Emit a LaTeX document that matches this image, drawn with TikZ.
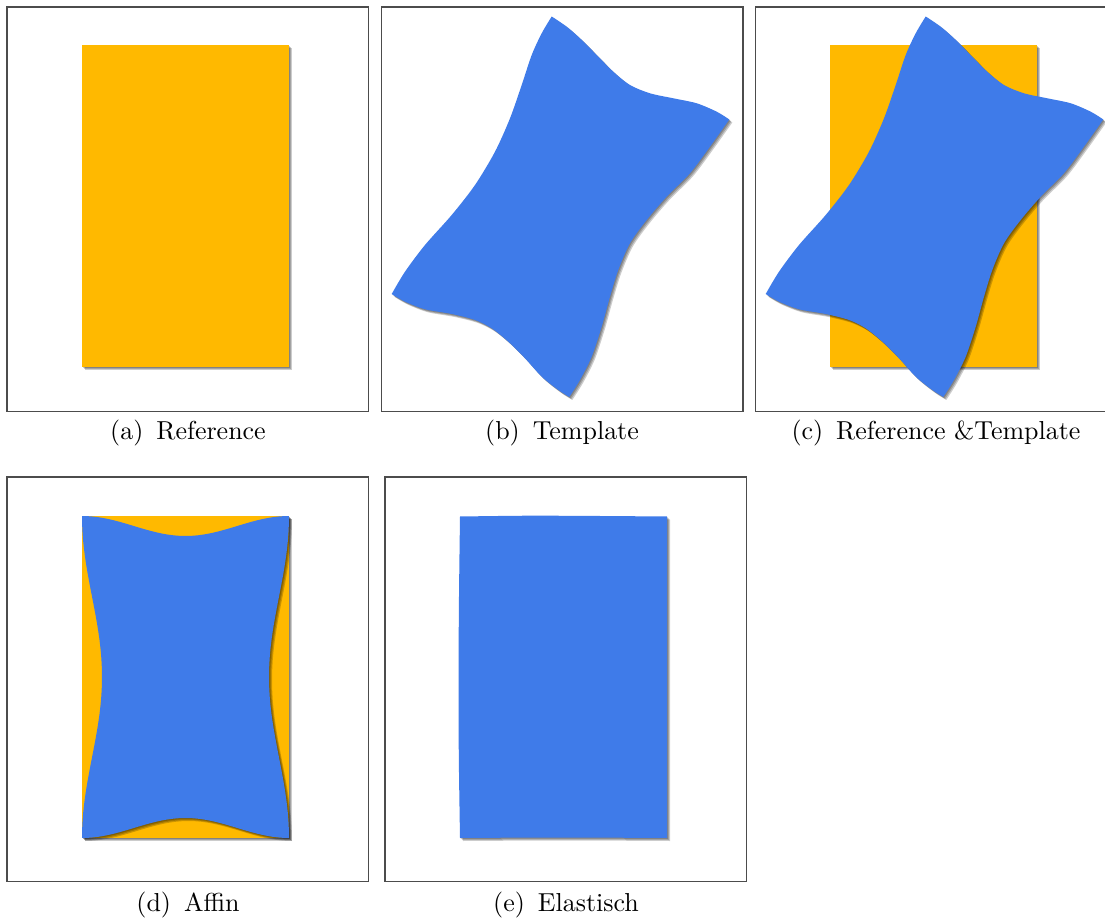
\documentclass[tikz,border=0pt]{standalone}
\usepackage{amsmath, amssymb}
\usepackage{tikz}

\definecolor{refgelb}{RGB}{255,185,0}
\definecolor{tplblau}{RGB}{63,123,233}

\tikzset{
  rahmen/.style={draw=black!70, line width=0.5pt},
  refflaeche/.style={fill=refgelb},
  tplflaeche/.style={fill=tplblau},
  schatten/.style={fill=black, opacity=0.2},
  bildtext/.style={inner sep=0pt},
}

% Umriss des Templates (Koordinaten im Teilbild (b))
\newcommand{\tplpfad}{%
  plot[smooth] coordinates {(551.7,16.5) (566.7,26.7) (580,38.3) (596.7,55) (613.3,71.7) (630,85) (650,93.3) (673.3,98.3) (696.7,103.3) (716.7,111.7) (729.3,119.5)}
  -- plot[smooth] coordinates {(729.3,119.5) (710,146.7) (690,173.3) (666.7,196.7) (646.7,220) (630,243.3) (618.3,270) (610,296.7) (601.7,326.7) (591.7,356.7) (580,380) (569.3,397)}
  -- plot[smooth] coordinates {(569.3,397) (558.3,390) (541.7,376.7) (525,358.3) (508.3,341.7) (491.7,328.3) (475,320) (451.7,314) (425,309.3) (405,301.7) (391.7,294)}
  -- plot[smooth] coordinates {(391.7,294) (405,271.7) (425,245) (451.7,215) (475,185) (495,151.7) (510,118.3) (521.7,85) (531.7,55) (541.7,33.3) (551.7,16.5)}
  -- cycle}

% Referenzrechteck (Koordinaten im Teilbild (a))
\newcommand{\refpfad}{(82,45) rectangle (289,367)}

\begin{document}
\begin{tikzpicture}[x=0.385pt, y=-0.385pt]

    \useasboundingbox (0,0) rectangle (1105,920);

    % ================= (a) Reference =================
    \draw[rahmen] (7,7) rectangle (368.5,411.5);
    \foreach \d in {1,2,3} \fill[schatten, shift={(\d,\d)}] \refpfad;
    \fill[refflaeche] \refpfad;
    \node[bildtext] (capA) at (188,433) {(a)\enspace Reference};

    % ================= (b) Template =================
    \draw[rahmen] (381.5,7) rectangle (743,411.5);
    \foreach \d in {1,2,3} \fill[schatten, shift={(\d,\d)}] \tplpfad;
    \fill[tplflaeche] \tplpfad;
    \node[bildtext] (capB) at (562,433) {(b)\enspace Template};

    % ================= (c) Reference & Template =================
    % rechter Rand liegt ausserhalb des Bildes
    \draw[rahmen] (1105,7) -- (755.5,7) -- (755.5,411.5) -- (1105,411.5);
    \begin{scope}[shift={(748,0)}]
        \foreach \d in {1,2,3} \fill[schatten, shift={(\d,\d)}] \refpfad;
        \fill[refflaeche] \refpfad;
    \end{scope}
    \begin{scope}[shift={(374,0)}]
        \foreach \d in {1,2,3} \fill[schatten, shift={(\d,\d)}] \tplpfad;
        \fill[tplflaeche] \tplpfad;
    \end{scope}
    \node[bildtext] (capC) at (936,433) {(c)\enspace Reference \&Template};

    % ================= (d) Affin =================
    \draw[rahmen] (7,477) rectangle (368.5,881.5);
    \begin{scope}[shift={(82,516)}]
        \foreach \d in {1,2,3} \fill[schatten, shift={(\d,\d)}] (0,0) rectangle (207,322);
        \fill[refflaeche] (0,0) rectangle (207,322);
        % Template nach affiner Registrierung: Kanten nach innen gewoelbt
        \foreach \d in {1,2,3}
            \fill[schatten, shift={(\d,\d)}]
                plot[domain=0:1, samples=40] ({207*\x},{10-10*cos(360*\x)})
                -- plot[domain=0:1, samples=40] ({197+10*cos(360*\x)},{322*\x})
                -- plot[domain=1:0, samples=40] ({207*\x},{312+10*cos(360*\x)})
                -- plot[domain=1:0, samples=40] ({10-10*cos(360*\x)},{322*\x}) -- cycle;
        \fill[tplflaeche]
            plot[domain=0:1, samples=40] ({207*\x},{10-10*cos(360*\x)})
            -- plot[domain=0:1, samples=40] ({197+10*cos(360*\x)},{322*\x})
            -- plot[domain=1:0, samples=40] ({207*\x},{312+10*cos(360*\x)})
            -- plot[domain=1:0, samples=40] ({10-10*cos(360*\x)},{322*\x}) -- cycle;
    \end{scope}
    \node[bildtext] (capD) at (188,905) {(d)\enspace Affin};

    % ================= (e) Elastisch =================
    \draw[rahmen] (385,477) rectangle (746.7,881.5);
    \begin{scope}[shift={(460,516)}]
        \foreach \d in {1,2,3}
            \fill[schatten, shift={(\d,\d)}] plot[smooth] coordinates {(0,0.5) (70,-0.3) (140,0) (207,0.5)}
                -- (207,322) -- plot[smooth] coordinates {(207,322) (100,321.5) (0,322)}
                -- plot[smooth] coordinates {(0,322) (-1.2,240) (-1.5,160) (-1,80) (0,0.5)} -- cycle;
        \fill[tplflaeche] plot[smooth] coordinates {(0,0.5) (70,-0.3) (140,0) (207,0.5)}
            -- (207,322) -- plot[smooth] coordinates {(207,322) (100,321.5) (0,322)}
            -- plot[smooth] coordinates {(0,322) (-1.2,240) (-1.5,160) (-1,80) (0,0.5)} -- cycle;
    \end{scope}
    \node[bildtext] (capE) at (566,905) {(e)\enspace Elastisch};

\end{tikzpicture}
\end{document}
